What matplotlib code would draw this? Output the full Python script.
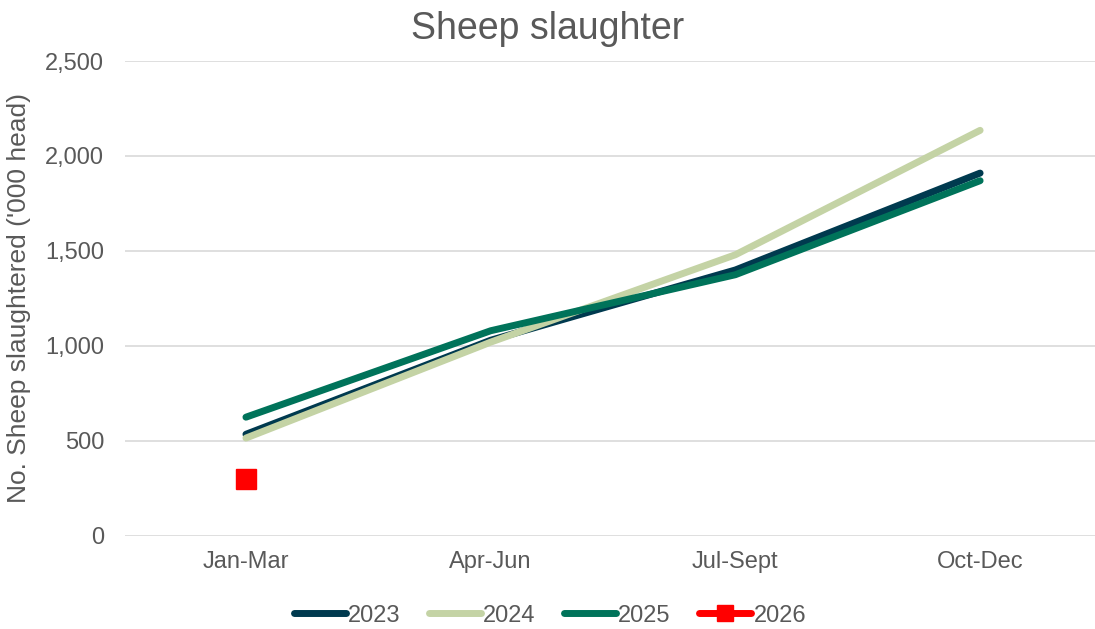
import matplotlib
matplotlib.use("Agg")
import matplotlib.pyplot as plt

quarters = ["Jan-Mar", "Apr-Jun", "Jul-Sept", "Oct-Dec"]
y2023 = [535, 1030, 1400, 1910]
y2024 = [515, 1020, 1480, 2135]
y2025 = [625, 1080, 1375, 1870]
y2026 = [300]

grey = "#595959"
plt.rcParams["font.family"] = ["Liberation Sans", "DejaVu Sans"]

fig = plt.figure(figsize=(10.95, 6.29), dpi=100)
ax = fig.add_axes([0.1142, 0.148, 0.8877, 0.755])

x = list(range(len(quarters)))
ax.plot(x, y2023, color="#003a4f", lw=5, solid_capstyle="round", label="2023")
ax.plot(x, y2024, color="#c4d3a5", lw=5, solid_capstyle="round", label="2024")
ax.plot(x, y2025, color="#00735a", lw=5, solid_capstyle="round", label="2025")
ax.plot(x[:len(y2026)], y2026, color="#ff0000", lw=5, marker="s", markersize=14,
        solid_capstyle="round", label="2026")

ax.set_xlim(-0.494, 3.478)
ax.set_ylim(0, 2500)
ax.set_yticks(range(0, 2501, 500))
ax.set_yticklabels([f"{v:,}" for v in range(0, 2501, 500)])
ax.set_xticks(x)
ax.set_xticklabels(quarters)
ax.tick_params(axis="y", length=0, pad=15, labelsize=17, labelcolor=grey)
ax.tick_params(axis="x", length=0, pad=11, labelsize=17, labelcolor=grey)
ax.grid(axis="y", color="#d9d9d9", lw=1.2)
ax.set_axisbelow(True)
for s in ax.spines.values():
    s.set_visible(False)

ax.set_ylabel("No. Sheep slaughtered ('000 head)", fontsize=19, color=grey, labelpad=10)
fig.suptitle("Sheep slaughter", fontsize=27, color=grey, y=0.983)

leg = ax.legend(loc="upper center", bbox_to_anchor=(0.437, -0.1), ncol=4, frameon=False,
                fontsize=17, handlelength=2.2, handletextpad=0.1, columnspacing=1.2,
                labelcolor=grey)
for h in leg.get_lines():
    h.set_markersize(12)

fig.savefig("out.png", dpi=100)
